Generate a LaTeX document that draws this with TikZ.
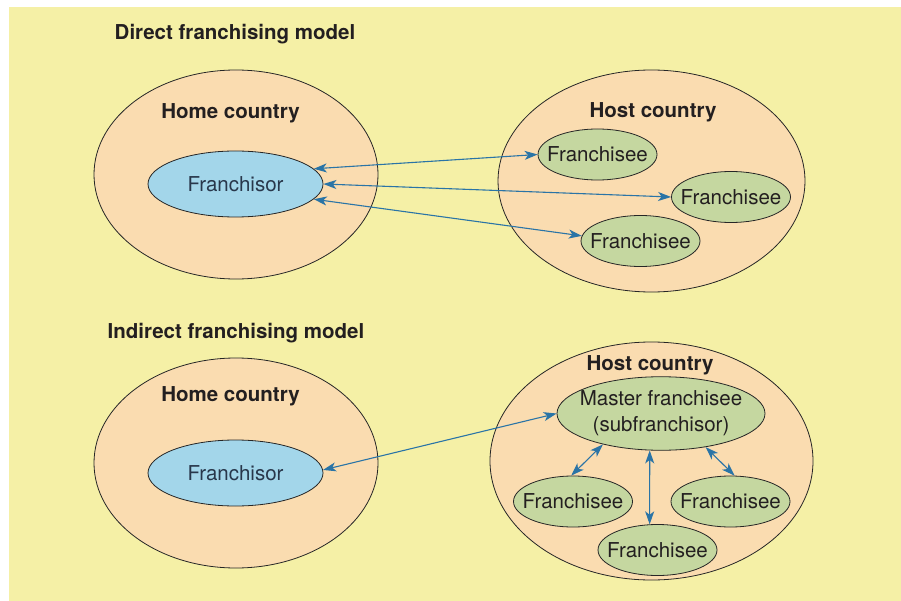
\documentclass[tikz,border=0pt]{standalone}
\usepackage{fontspec}
\setmainfont{TeX Gyre Heros}
\usetikzlibrary{shapes.geometric,arrows.meta}
\definecolor{bgyellow}{RGB}{245,240,166}
\definecolor{peach}{RGB}{250,220,176}
\definecolor{franblue}{RGB}{163,214,234}
\definecolor{fgreen}{RGB}{197,215,160}
\definecolor{arrowblue}{RGB}{42,116,166}
\definecolor{darktext}{RGB}{35,31,32}
\definecolor{bluetext}{RGB}{40,55,75}
\tikzset{
  country/.style={draw=black!85, line width=0.8pt, fill=peach, ellipse, inner sep=0pt},
  franchisor/.style={draw=black!85, line width=0.8pt, fill=franblue, ellipse, inner sep=0pt,
    minimum width=175pt, minimum height=66pt, text=bluetext},
  franchisee/.style={draw=black!85, line width=0.8pt, fill=fgreen, ellipse, inner sep=0pt,
    minimum width=119pt, minimum height=51pt, text=darktext},
  title/.style={font=\fontsize{20.5}{24}\selectfont\bfseries, text=darktext, inner sep=0pt},
  link/.style={draw=arrowblue, line width=1.1pt,
    {Stealth[length=13pt,width=9pt,inset=3.5pt]}-{Stealth[length=13pt,width=9pt,inset=3.5pt]}},
}
\newcommand{\zw}[1]{\makebox[0pt]{#1}}
\begin{document}
\begin{tikzpicture}[x=1pt,y=-1pt, font=\fontsize{20.5}{26}\selectfont]
\useasboundingbox (0,0) rectangle (901,601);
\fill[white] (0,0) rectangle (901,601);
\fill[bgyellow] (9,7) rectangle (901,601);

% ---------- Direct ----------
\node[title] (t1) at (235,34) {Direct franchising model};
\node[country, minimum width=284pt, minimum height=209pt] (home1) at (236,174.5) {};
\node[title] (hl1) at (230.5,113) {Home country};
\node[franchisor] (fr1) at (235.5,184) {\zw{Franchisor}};

\node[country, minimum width=307pt, minimum height=222pt] (host1) at (651.5,181) {};
\node[title] (hs1) at (653,112) {Host country};
\node[franchisee] (fe1) at (597.5,154.5) {\zw{Franchisee}};
\node[franchisee] (fe2) at (731,197) {\zw{Franchisee}};
\node[franchisee] (fe3) at (640.5,241) {\zw{Franchisee}};

\draw[link] (fr1.11) -- (fe1.180);
\draw[link] (fr1.0) -- (fe2.180);
\draw[link] (fr1.-11) -- (fe3.175);

% ---------- Indirect ----------
\node[title] (t2) at (236,333) {Indirect franchising model};
\node[country, minimum width=284pt, minimum height=210pt] (home2) at (236,463) {};
\node[title] (hl2) at (230.5,396) {Home country};
\node[franchisor] (fr2) at (235.5,473) {\zw{Franchisor}};

\node[country, minimum width=323pt, minimum height=238pt] (host2) at (651.5,461) {};
\node[title] (hs2) at (650,365) {Host country};
\node[franchisee, minimum width=208pt, minimum height=73pt] (ms) at (661,413.5)
  {\zw{\begin{tabular}{@{}c@{}}Master franchisee\\(subfranchisor)\end{tabular}}};
\node[franchisee] (fl) at (573,501.5) {\zw{Franchisee}};
\node[franchisee] (fr) at (730.5,501.5) {\zw{Franchisee}};
\node[franchisee] (fb) at (657.5,550) {\zw{Franchisee}};

\draw[link] (fr2.2) -- (ms.180);
\draw[link] (ms.208) -- (fl.94);
\draw[link] (ms.253) -- (fb.107);
\draw[link] (ms.323) -- (fr.81);
\end{tikzpicture}
\end{document}
